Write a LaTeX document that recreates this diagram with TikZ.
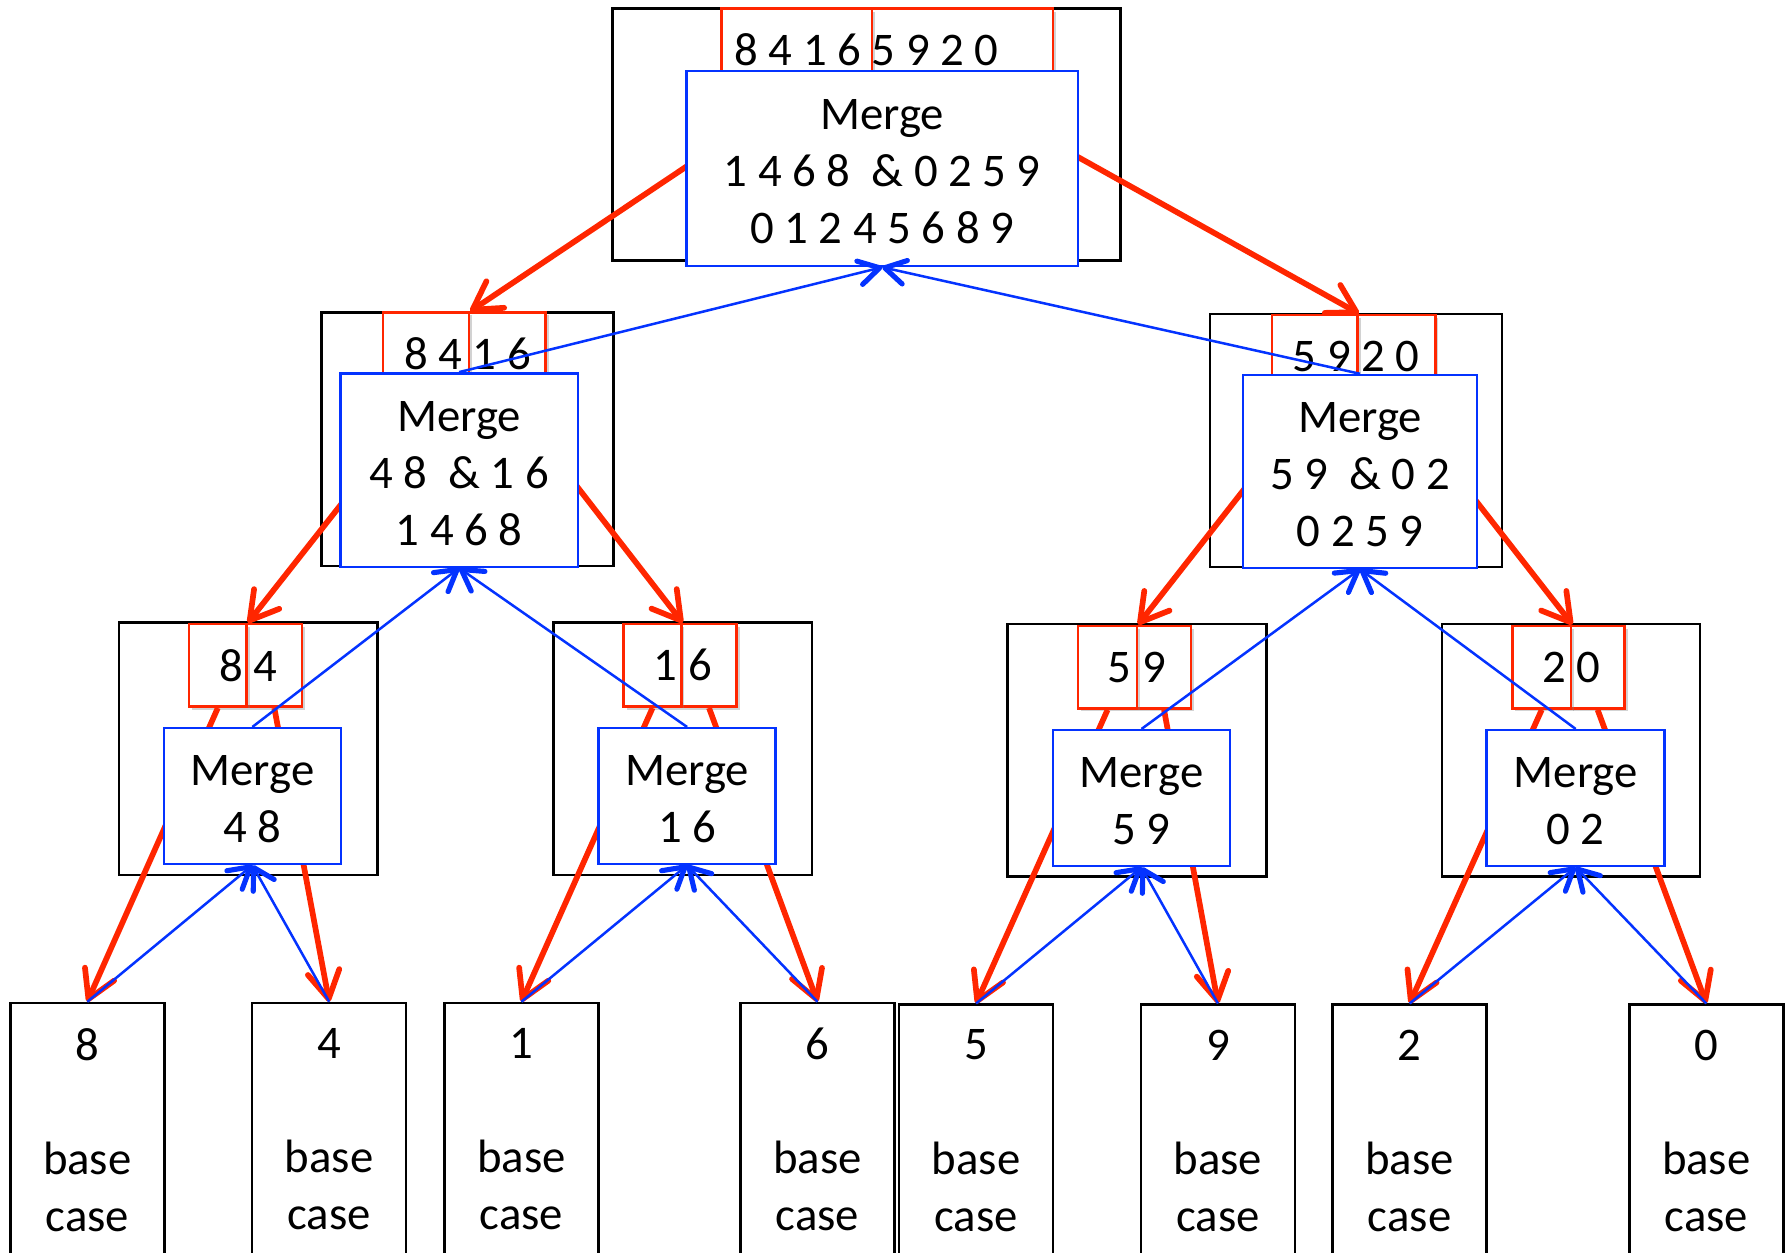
\documentclass[tikz,border=0pt]{standalone}
\usepackage{fontspec}
\setmainfont{Carlito}
\usetikzlibrary{arrows.meta,shadows}
\definecolor{splitred}{RGB}{255,38,0}
\definecolor{mergeblue}{RGB}{4,51,255}

\begin{document}
\begin{tikzpicture}[x=1pt, y=-1pt,
        font=\fontsize{41}{50}\selectfont,
        call/.style={draw=black, line width=2.2pt, inner sep=0pt},
        half/.style={draw=splitred, line width=2.2pt, fill=white, inner sep=0pt, minimum height=72.5pt,
            drop shadow={shadow xshift=2.5pt, shadow yshift=-2.5pt, opacity=0.35}},
        digits/.style={inner sep=0pt},
        merge/.style={draw=mergeblue, line width=2.2pt, fill=white, inner sep=0pt, align=center},
        base/.style={draw=black, line width=2.2pt, inner sep=0pt, minimum width=135pt, minimum height=300pt, anchor=north},
        basetext/.style={anchor=north, inner sep=0pt, align=center},
        split/.style={draw=splitred, line width=5pt, -{Straight Barb[length=24pt, width=28pt, round]}},
        mergeup/.style={draw=mergeblue, line width=2.2pt, -{Straight Barb[length=18pt, width=21pt, line width=4.5pt, round]}}]
        \useasboundingbox (0,0) rectangle (1568,1098);
        \clip (0,0) rectangle (1568,1098);

        \node[call, minimum width=445pt, minimum height=221pt] (callT) at (759.5,118) {};
        \node[call, minimum width=256pt, minimum height=222pt] (callL) at (409.75,384.9) {};
        \node[call, minimum width=256pt, minimum height=222pt] (callR) at (1188.5,386) {};
        \node[call, minimum width=226.4pt, minimum height=221.2pt] (callLL) at (217.5,656.3) {};
        \node[call, minimum width=226.4pt, minimum height=221.2pt] (callLR) at (598.5,656.3) {};
        \node[call, minimum width=227pt, minimum height=221pt] (callRL) at (996.5,657.5) {};
        \node[call, minimum width=226pt, minimum height=221pt] (callRR) at (1377,657.5) {};

        \node[half, minimum width=158.5pt] (rightT) at (843.55,43.85) {};
        \node[half, minimum width=132pt] (leftT) at (698.3,43.85) {};
        \node[half, minimum width=67.3pt] (rightL) at (444.65,310.25) {};
        \node[half, minimum width=75.4pt] (leftL) at (373.3,310.25) {};
        \node[half, minimum width=68pt] (rightR) at (1224,312.25) {};
        \node[half, minimum width=75pt] (leftR) at (1152.5,312.25) {};
        \node[half, minimum width=48.5pt] (rightLL) at (240.45,583.15) {};
        \node[half, minimum width=50.6pt] (leftLL) at (190.9,583.15) {};
        \node[half, minimum width=48.5pt] (rightLR) at (621.45,583.15) {};
        \node[half, minimum width=50.6pt] (leftLR) at (571.9,583.15) {};
        \node[half, minimum width=47.5pt] (rightRL) at (1020.25,584.75) {};
        \node[half, minimum width=51.5pt] (leftRL) at (970.75,584.75) {};
        \node[half, minimum width=47.5pt] (rightRR) at (1400.25,584.75) {};
        \node[half, minimum width=51.5pt] (leftRR) at (1351.25,584.75) {};

        \node[digits] (numT) at (callT.north |- leftT.center) {8 4 1 6 5 9 2 0};
        \node[digits] (numL) at (callL.north |- leftL.center) {8 4 1 6};
        \node[digits] (numR) at (callR.north |- leftR.center) {5 9 2 0};
        \node[digits] (numLL) at (callLL.north |- leftLL.center) {8 4};
        \node[digits] (numLR) at (callLR.north |- leftLR.center) {1 6};
        \node[digits] (numRL) at (callRL.north |- leftRL.center) {5 9};
        \node[digits] (numRR) at (callRR.north |- leftRR.center) {2 0};

        \node[base] (base8) at (76.5,878) {};
        \node[base] (base4) at (288.5,878) {};
        \node[base] (base1) at (457,878) {};
        \node[base] (base6) at (716.5,878) {};
        \node[base] (base5) at (855.5,879.5) {};
        \node[base] (base9) at (1067.5,879.5) {};
        \node[base] (base2) at (1235.5,879.5) {};
        \node[base] (base0) at (1495.5,879.5) {};
        \node[basetext] (val8) at (76.5,901) {8\\[50pt]base\\case};
        \node[basetext] (val4) at (288.5,901) {4\\[50pt]base\\case};
        \node[basetext] (val1) at (457,901) {1\\[50pt]base\\case};
        \node[basetext] (val6) at (716.5,901) {6\\[50pt]base\\case};
        \node[basetext] (val5) at (855.5,902.5) {5\\[50pt]base\\case};
        \node[basetext] (val9) at (1067.5,902.5) {9\\[50pt]base\\case};
        \node[basetext] (val2) at (1235.5,902.5) {2\\[50pt]base\\case};
        \node[basetext] (val0) at (1495.5,902.5) {0\\[50pt]base\\case};

        \draw[split] (leftT.south) -- (leftL.north east);
        \draw[split] (rightT.south) -- (leftR.north east);
        \draw[split] (leftL.south) -- (leftLL.north east);
        \draw[split] (rightL.south) -- (leftLR.north east);
        \draw[split] (leftR.south) -- (leftRL.north east);
        \draw[split] (rightR.south) -- (leftRR.north east);
        \draw[split] (leftLL.south) -- (base8.north);
        \draw[split] (rightLL.south) -- (base4.north);
        \draw[split] (leftLR.south) -- (base1.north);
        \draw[split] (rightLR.south) -- (base6.north);
        \draw[split] (leftRL.south) -- (base5.north);
        \draw[split] (rightRL.south) -- (base9.north);
        \draw[split] (leftRR.south) -- (base2.north);
        \draw[split] (rightRR.south) -- (base0.north);

        \node[merge, minimum width=343pt, minimum height=171pt] (mergeT) at (773.2,147.6) {\rule{0pt}{32pt}Merge\\1 4 6 8\ \ \& 0 2 5 9\\0 1 2 4 5 6 8 9};
        \node[merge, minimum width=208pt, minimum height=169.5pt] (mergeL) at (402.4,412) {\rule{0pt}{32pt}Merge\\4 8\ \ \& 1 6\\1 4 6 8};
        \node[merge, minimum width=205pt, minimum height=169pt] (mergeR) at (1192,413.2) {\rule{0pt}{32pt}Merge\\5 9\ \ \& 0 2\\0 2 5 9};
        \node[merge, minimum width=155pt, minimum height=119pt] (mergeLL) at (221.2,697.75) {\rule{0pt}{32pt}Merge\\4 8};
        \node[merge, minimum width=155pt, minimum height=119pt] (mergeLR) at (602.2,697.75) {\rule{0pt}{32pt}Merge\\1 6};
        \node[merge, minimum width=155pt, minimum height=119pt] (mergeRL) at (1000.5,699.5) {\rule{0pt}{32pt}Merge\\5 9};
        \node[merge, minimum width=156pt, minimum height=119pt] (mergeRR) at (1381,699.5) {\rule{0pt}{32pt}Merge\\0 2};

        \draw[mergeup] (mergeL.north) -- (mergeT.south);
        \draw[mergeup] (mergeR.north) -- (mergeT.south);
        \draw[mergeup] (mergeLL.north) -- (mergeL.south);
        \draw[mergeup] (mergeLR.north) -- (mergeL.south);
        \draw[mergeup] (mergeRL.north) -- (mergeR.south);
        \draw[mergeup] (mergeRR.north) -- (mergeR.south);
        \draw[mergeup] (base8.north) -- (mergeLL.south);
        \draw[mergeup] (base4.north) -- (mergeLL.south);
        \draw[mergeup] (base1.north) -- (mergeLR.south);
        \draw[mergeup] (base6.north) -- (mergeLR.south);
        \draw[mergeup] (base5.north) -- (mergeRL.south);
        \draw[mergeup] (base9.north) -- (mergeRL.south);
        \draw[mergeup] (base2.north) -- (mergeRR.south);
        \draw[mergeup] (base0.north) -- (mergeRR.south);
\end{tikzpicture}
\end{document}
